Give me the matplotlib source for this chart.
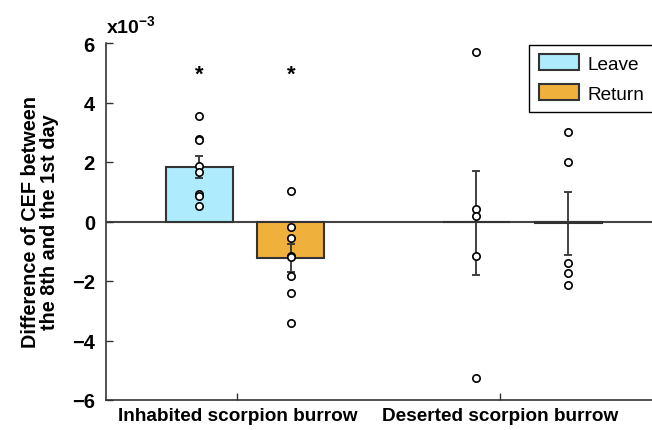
import matplotlib.pyplot as plt

plt.rcParams['font.family'] = ['Liberation Sans', 'DejaVu Sans']
plt.rcParams['mathtext.fontset'] = 'custom'
plt.rcParams['mathtext.rm'] = 'Liberation Sans:bold'
plt.rcParams['mathtext.it'] = 'Liberation Sans:bold'

groups = ["Inhabited scorpion burrow", "Deserted scorpion burrow"]
series = ["Leave", "Return"]
colors = ["#AEEBFC", "#F0B03C"]

# bar positions (x) for Leave/Return in each group
bar_x = [[0.854, 1.203], [1.909, 2.259]]

# means and SE (x10^-3)
means = [[1.84, -1.23], [-0.02, -0.05]]
err_hi = [[0.37, 0.48], [1.73, 1.03]]
err_lo = [[0.38, 0.46], [1.77, 1.08]]

# individual points
points = [
    [[3.55, 2.77, 2.75, 1.85, 1.65, 0.92, 0.85, 0.51],
     [1.01, -0.18, -0.55, -1.15, -1.2, -1.82, -2.41, -3.40]],
    [[5.69, 0.42, 0.17, -1.15, -5.25],
     [3.0, 1.99, -1.40, -1.73, -2.14]],
]
star_y = 4.95

fig = plt.figure(figsize=(6.52, 4.31), dpi=100)
ax = fig.add_axes([106 / 652, 30 / 431, 560 / 652, 357 / 431])

ax.axhline(0, color="#444444", lw=1.5, zorder=1)
for g in range(2):
    for s in range(2):
        x = bar_x[g][s]
        ax.bar(x, means[g][s], width=0.255, color=colors[s], edgecolor="#333333",
               lw=1.5, zorder=2, label=series[s] if g == 0 else None)
        ax.errorbar(x, means[g][s], yerr=[[err_lo[g][s]], [err_hi[g][s]]],
                    fmt="none", ecolor="#333333", elinewidth=1.3, capsize=3,
                    capthick=1.3, zorder=3)
        ax.scatter([x] * len(points[g][s]), points[g][s], s=28, facecolor="white",
                   edgecolor="black", lw=1.2, zorder=4)

for x in bar_x[0]:
    ax.text(x, star_y, "*", ha="center", va="center", fontsize=16, fontweight="bold")

ax.set_xlim(0.5, 2.63)
ax.set_ylim(-6, 6)
ax.set_yticks([-6, -4, -2, 0, 2, 4, 6])
ax.set_yticklabels(["\u22126", "\u22124", "\u22122", "0", "2", "4", "6"])
ax.set_xticks([1, 2])
ax.set_xticklabels(groups)
ax.tick_params(axis="both", direction="in", length=5, width=1, color="#333333")
ax.tick_params(axis="y", labelsize=14.5, pad=8)
ax.tick_params(axis="x", labelsize=13.7, pad=5)
for lab in ax.get_xticklabels() + ax.get_yticklabels():
    lab.set_fontweight("bold")
for side in ["top", "right"]:
    ax.spines[side].set_visible(False)
for side in ["left", "bottom"]:
    ax.spines[side].set_color("#333333")
    ax.spines[side].set_linewidth(1.2)

ax.set_ylabel("Difference of CEF between\nthe 8th and the 1st day", fontsize=14.3,
              fontweight="bold", labelpad=9, linespacing=1.02)
ax.text(0.0, 1.02, r"x10$^{-3}$", transform=ax.transAxes, fontsize=14,
        fontweight="bold", ha="left", va="bottom")

leg = ax.legend(loc="upper left", bbox_to_anchor=((529 - 106) / 560, 0.995),
                fontsize=13.7, fancybox=False, edgecolor="black", framealpha=1,
                handlelength=2.15, handleheight=0.9, borderpad=0.5,
                labelspacing=0.6, handletextpad=0.4, borderaxespad=0)
leg.get_frame().set_linewidth(1.0)

fig.savefig("out.png", dpi=100)
